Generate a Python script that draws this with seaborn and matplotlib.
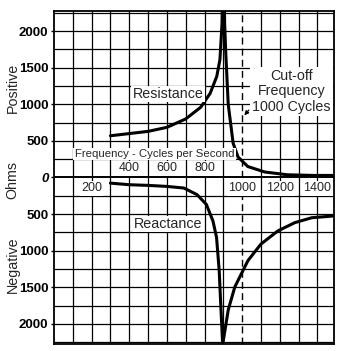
import matplotlib
matplotlib.use("Agg")
import matplotlib.pyplot as plt
import seaborn as sns
import numpy as np

sns.set_theme(style="white")
plt.rcParams['font.family'] = ['Liberation Sans', 'DejaVu Sans']

# Resistance (positive ohms) vs frequency (cycles per second)
res_freq = [300, 400, 500, 600, 700, 780, 830, 865, 882, 893, 900, 907, 913, 926, 952, 978, 1030, 1120, 1240, 1380, 1480]
res_ohms = [570, 600, 630, 685, 800, 960, 1150, 1380, 1610, 2100, 3200, 2100, 1700, 1000, 470, 280, 150, 75, 37, 28, 28]

# Reactance (negative ohms) vs frequency
rea_freq = [300, 400, 500, 600, 690, 760, 810, 845, 864, 878, 886, 896, 898, 926, 961, 996, 1031, 1100, 1190, 1280, 1370, 1480]
rea_ohms = [-77, -99, -108, -122, -144, -234, -369, -595, -820, -1270, -1720, -2260, -2260, -1810, -1496, -1315, -1135, -910, -730, -617, -550, -527]

y_ticks = [-2000, -1500, -1000, -500, 0, 500, 1000, 1500, 2000]
x_labels_upper = [400, 600, 800]
x_labels_lower = [200, 1000, 1200, 1400]
cutoff = 1000

fig = plt.figure(figsize=(3.45, 3.51), dpi=100)
ax = fig.add_axes([0.1565, 0.02, 0.8115, 0.9487])

sns.lineplot(x=res_freq, y=res_ohms, color='black', lw=2.2, estimator=None, sort=False, ax=ax)
sns.lineplot(x=rea_freq, y=rea_ohms, color='black', lw=2.2, estimator=None, sort=False, ax=ax)

ax.set_xlim(0, 1488)
ax.set_ylim(-2275, 2275)

# grid
for gx in np.arange(100, 1488, 100):
    if gx == cutoff:
        continue
    ax.axvline(gx, color='black', lw=0.9, zorder=0)
for gy in np.arange(-2250, 2290, 250):
    ax.axhline(gy, color='black', lw=0.9 if gy != 0 else 1.4, zorder=0)
ax.axvline(cutoff, color='black', lw=1.0, ls=(0, (5, 3)), zorder=1)

for s in ax.spines.values():
    s.set_color('black')
    s.set_linewidth(1.3)

ax.set_xticks([])
ax.set_yticks(y_ticks)
ax.set_yticklabels([str(abs(v)) for v in y_ticks])
ax.tick_params(axis='y', length=2, width=1, color='black', pad=2, labelsize=9.5, labelcolor='black', left=True)
for lab in ax.get_yticklabels():
    lab.set_fontweight('bold')
    if lab.get_text() == '0':
        lab.set_fontstyle('italic')
ax.set_xlabel('')
ax.set_ylabel('')

box = dict(facecolor='white', edgecolor='none', pad=1.0)
for v in x_labels_upper:
    ax.text(v, 125, str(v), ha='center', va='center', fontsize=9, bbox=box, zorder=3)
for v in x_labels_lower:
    ax.text(v, -150, str(v), ha='center', va='center', fontsize=9, bbox=box, zorder=3)

ax.text(110, 320, 'Frequency - Cycles per Second', ha='left', va='center', fontsize=8.2, bbox=box, zorder=3)
ax.text(607, 1140, 'Resistance', ha='center', va='center', fontsize=10.3, bbox=box, zorder=3)
ax.text(607, -635, 'Reactance', ha='center', va='center', fontsize=10.3, bbox=box, zorder=3)
ax.text(1262, 1175, 'Cut-off\nFrequency\n1000 Cycles', ha='center', va='center', fontsize=10.3,
        linespacing=1.1, bbox=dict(facecolor='white', edgecolor='none', pad=1.5), zorder=3)
ax.annotate('', xy=(1002, 820), xytext=(1045, 950),
            arrowprops=dict(arrowstyle='-|>', color='black', lw=0.9, mutation_scale=6), zorder=4)

fig.text(0.036, 1 - 88/351, 'Positive', rotation=90, ha='center', va='center', fontsize=10.3)
fig.text(0.036, 1 - 180/351, 'Ohms', rotation=90, ha='center', va='center', fontsize=10.3)
fig.text(0.036, 1 - 265/351, 'Negative', rotation=90, ha='center', va='center', fontsize=10.3)

fig.savefig('out.png', dpi=100)
